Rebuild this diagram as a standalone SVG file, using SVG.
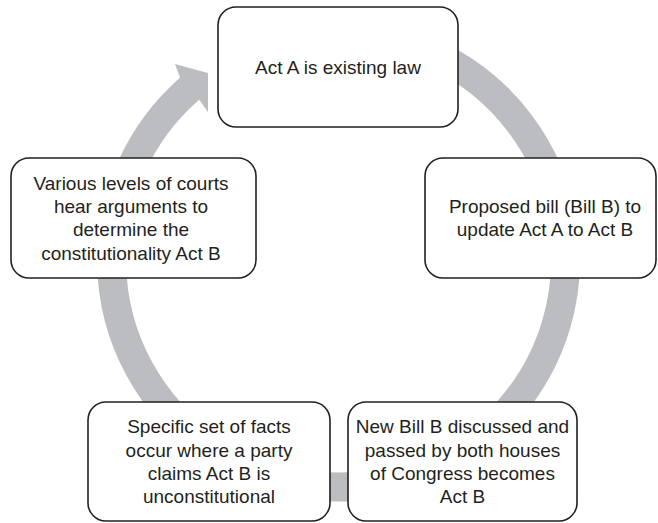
<svg xmlns="http://www.w3.org/2000/svg" width="658" height="523" viewBox="0 0 658 523">
  <style>
    .box { fill: #ffffff; stroke: #231f20; stroke-width: 1.6; }
    .lbl { font-family: "Liberation Sans", Arial, sans-serif; font-size: 19px; fill: #231f20; text-anchor: middle; }
    .ring { fill: none; stroke: #bcbdc0; stroke-width: 29; }
    .head { fill: #bcbdc0; }
  </style>
  <rect width="658" height="523" fill="#ffffff"/>
  <g id="connectors">
    <path class="ring" d="M 338.5 33 A 227 227 0 1 1 189.6 88.7"/>
    <polygon class="head" points="173.8,83.4 180.1,77.7 175,64 208,73 208,112 199.1,99.6 193.6,104.6"/>
  </g>
  <g id="node-act-a">
    <rect class="box" x="218" y="7" width="240" height="120" rx="18"/>
    <text class="lbl" x="338" y="74">Act A is existing law</text>
  </g>
  <g id="node-proposed">
    <rect class="box" x="425" y="158" width="231" height="120" rx="18"/>
    <text class="lbl" x="545" y="213">Proposed bill (Bill B) to</text>
    <text class="lbl" x="545" y="236.3">update Act A to Act B</text>
  </g>
  <g id="node-passed">
    <rect class="box" x="348" y="402" width="229" height="119" rx="18"/>
    <text class="lbl" x="462.5" y="433.2">New Bill B discussed and</text>
    <text class="lbl" x="462.5" y="456.5">passed by both houses</text>
    <text class="lbl" x="462.5" y="479.8">of Congress becomes</text>
    <text class="lbl" x="462.5" y="503.1">Act B</text>
  </g>
  <g id="node-facts">
    <rect class="box" x="88" y="402" width="242" height="119" rx="18"/>
    <text class="lbl" x="209" y="433.2">Specific set of facts</text>
    <text class="lbl" x="209" y="456.5">occur where a party</text>
    <text class="lbl" x="209" y="479.8">claims Act B is</text>
    <text class="lbl" x="209" y="503.1">unconstitutional</text>
  </g>
  <g id="node-courts">
    <rect class="box" x="11" y="158" width="245" height="120" rx="18"/>
    <text class="lbl" x="131" y="189.8">Various levels of courts</text>
    <text class="lbl" x="131" y="213">hear arguments to</text>
    <text class="lbl" x="131" y="236.3">determine the</text>
    <text class="lbl" x="131" y="259.6">constitutionality Act B</text>
  </g>
</svg>
